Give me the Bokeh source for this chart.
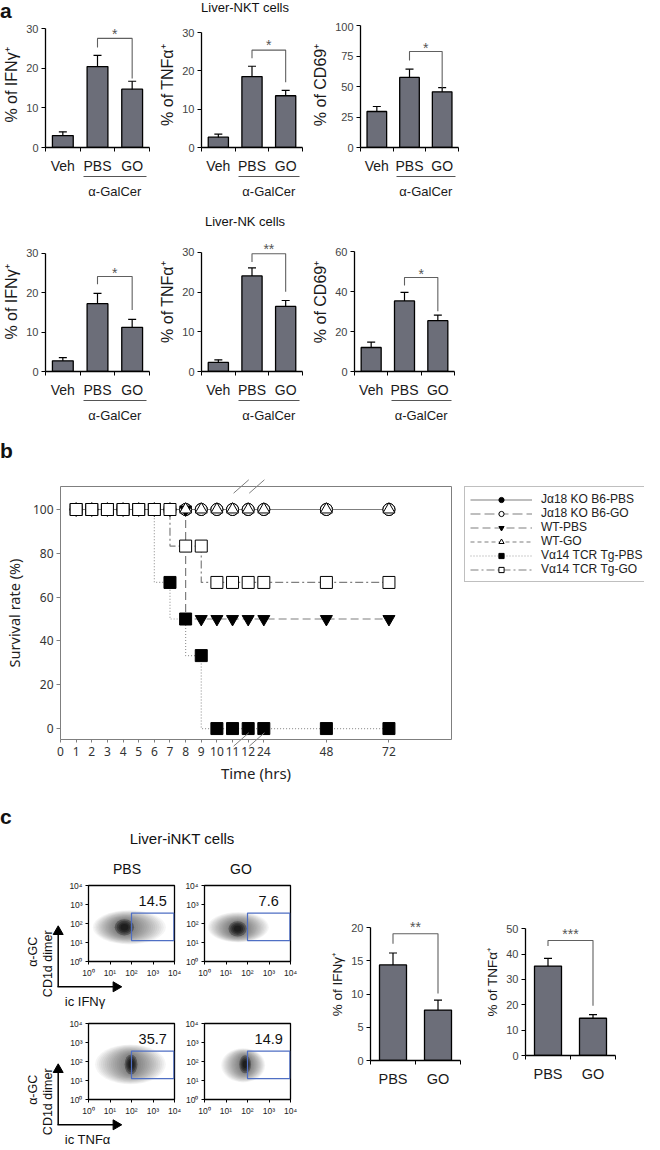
import math
from bokeh.plotting import figure
from bokeh.models import (ColumnDataSource, FixedTicker, LinearAxis, Whisker, TeeHead, Div, Spacer,
                          Legend, LegendItem, Range1d)
from bokeh.layouts import row, column
from bokeh.embed import file_html
from bokeh.resources import INLINE
from bokeh.core.properties import value

# ------------------------------------------------------------------ data
# panel a
groups_a = ["Veh", "PBS", "GO"]
nkt_ifng = [3.0, 20.4, 14.7]
nkt_ifng_err = [0.95, 2.8, 2.0]
nkt_tnfa = [2.7, 18.5, 13.5]
nkt_tnfa_err = [0.8, 2.7, 1.4]
nkt_cd69 = [29.5, 57.4, 45.6]
nkt_cd69_err = [4.1, 6.8, 3.5]
nk_ifng = [2.7, 17.2, 11.2]
nk_ifng_err = [0.8, 2.6, 2.0]
nk_tnfa = [2.3, 24.1, 16.4]
nk_tnfa_err = [0.65, 2.0, 1.5]
nk_cd69 = [12.0, 35.3, 25.4]
nk_cd69_err = [2.7, 4.3, 2.8]
# significance: [bracket level, PBS end, GO end, star level]
nkt_ifng_sig = [27.5, 25.2, 17.4, 29.4]
nkt_tnfa_sig = [25.4, 23.3, 17.0, 27.4]
nkt_cd69_sig = [78.7, 71.3, 48.9, 84.0]
nk_ifng_sig = [24.1, 22.1, 15.6, 25.7]
nk_tnfa_sig = [29.7, 27.6, 20.1, 31.7]
nk_cd69_sig = [47.0, 43.0, 30.1, 50.5]
stars_a = ["*", "*", "*", "*", "**", "*"]

# panel b
hours = [1, 2, 3, 4, 5, 6, 7, 8, 9, 10, 11, 12, 24, 48, 72]
tick_hours = [0, 1, 2, 3, 4, 5, 6, 7, 8, 9, 10, 11, 12, 24, 48, 72]
break_hours = [12, 24]
surv_b6_pbs = [100, 100, 100, 100, 100, 100, 100, 100, 100, 100, 100, 100, 100, 100, 100]
surv_b6_go = [100, 100, 100, 100, 100, 100, 100, 100, 100, 100, 100, 100, 100, 100, 100]
surv_wt_pbs = [100, 100, 100, 100, 100, 100, 100, 100, 50, 50, 50, 50, 50, 50, 50]
surv_wt_go = [100, 100, 100, 100, 100, 100, 100, 100, 100, 100, 100, 100, 100, 100, 100]
surv_va14_pbs = [100, 100, 100, 100, 100, 100, 66.7, 50, 33.3, 0, 0, 0, 0, 0, 0]
surv_va14_go = [100, 100, 100, 100, 100, 100, 100, 83.3, 83.3, 66.7, 66.7, 66.7, 66.7, 66.7, 66.7]
series_names = ["J\u03b118 KO B6-PBS", "J\u03b118 KO B6-GO", "WT-PBS", "WT-GO",
                "V\u03b114 TCR Tg-PBS", "V\u03b114 TCR Tg-GO"]

# panel c
groups_c = ["PBS", "GO"]
inkt_ifng = [14.4, 7.6]
inkt_ifng_err = [1.8, 1.5]
inkt_tnfa = [35.3, 14.7]
inkt_tnfa_err = [3.0, 1.4]
inkt_ifng_sig = [19.1, 17.6, 10.1, 20.6]
inkt_tnfa_sig = [45.4, 43.2, 19.6, 49.3]
# flow plots (log10 units): PBS-IFNg, GO-IFNg, PBS-TNFa, GO-TNFa
decades = [0, 1, 2, 3, 4]
decade_labels = ["10\u2070", "10\u00b9", "10\u00b2", "10\u00b3", "10\u2074"]
gate_pct = ["14.5", "7.6", "35.7", "14.9"]
gate_x = [2.0, 3.97]
gate_y = [1.1, 2.55]
cloud_cx = [1.67, 1.54, 1.98, 1.89]
cloud_cy = [1.80, 1.72, 1.85, 1.85]
core_w = [0.9, 0.85, 0.6, 0.55]
core_h = [0.85, 0.8, 1.05, 0.95]
halo_cx = [1.9, 1.57, 1.95, 1.8]
halo_cy = [1.8, 1.8, 1.85, 1.8]
halo_w = [3.4, 2.85, 3.3, 2.05]
halo_h = [1.8, 1.6, 2.1, 1.8]
key_y_labels = ["\u03b1-GC", "CD1d dimer"]
key_x_labels = ["ic IFN\u03b3", "ic TNF\u03b1"]

# ------------------------------------------------------------------ styles
SANS = "Liberation Sans"
NOTO = "Noto Sans"
BAR_FILL = "#6c6e79"
TXT = "#1a1a1a"
TICK_TXT = "#444444"


def bar_panel(cats, vals, errs, sig, stars, ylabel, yticks, yend, fw, fh, mbl, mbr, mbt, mbb,
              galcer, cat_size, tick_size, ylab_size):
    n = len(cats)
    xs = list(range(1, n + 1))
    src = ColumnDataSource(dict(x=xs, top=vals,
                                upper=[v + e for v, e in zip(vals, errs)],
                                lower=[v - e for v, e in zip(vals, errs)]))
    p = figure(frame_width=fw, frame_height=fh, x_range=Range1d(0.5, n + 0.5), y_range=Range1d(0, yend),
               min_border_left=mbl, min_border_right=mbr, min_border_top=mbt, min_border_bottom=mbb,
               output_backend="svg", toolbar_location=None)
    p.grid.visible = False
    p.outline_line_color = None
    p.vbar(x="x", top="top", width=0.6, source=src, fill_color=BAR_FILL, line_color="black", line_width=1.3)
    p.add_layout(Whisker(source=src, base="x", upper="upper", lower="lower", line_color="black", line_width=1.2,
                         upper_head=TeeHead(size=8, line_color="black", line_width=1.2),
                         lower_head=TeeHead(size=8, line_color="black", line_width=1.2)))
    a, b = xs[-2], xs[-1]
    p.line(x=[a, a, b, b], y=[sig[1], sig[0], sig[0], sig[2]], line_color="#606060", line_width=1.1)
    p.text(x=[(a + b) / 2], y=[sig[3]], text=[stars], text_align="center", text_baseline="middle",
           text_font=value(SANS), text_font_size="14px", text_color="#555555", y_offset=3)

    xa = p.xaxis[0]
    xa.ticker = FixedTicker(ticks=xs, minor_ticks=[i + 0.5 for i in range(n + 1)])
    xa.major_label_overrides = {x: c for x, c in zip(xs, cats)}
    xa.axis_line_color = "black"
    xa.axis_line_width = 1.3
    xa.major_tick_out = 0
    xa.major_tick_in = 0
    xa.minor_tick_out = 4
    xa.minor_tick_in = 0
    xa.minor_tick_line_color = "black"
    xa.major_label_standoff = 6
    xa.major_label_text_font = SANS
    xa.major_label_text_font_size = cat_size
    xa.major_label_text_color = TXT

    ya = p.yaxis[0]
    ya.ticker = FixedTicker(ticks=yticks)
    ya.bounds = (0, yticks[-1])
    ya.axis_line_color = "black"
    ya.axis_line_width = 1.3
    ya.major_tick_out = 4
    ya.major_tick_in = 0
    ya.major_tick_line_color = "black"
    ya.major_label_standoff = 3
    ya.major_label_text_font = SANS
    ya.major_label_text_font_size = tick_size
    ya.major_label_text_color = TICK_TXT
    ya.axis_label = ylabel
    ya.axis_label_text_font = SANS
    ya.axis_label_text_font_size = ylab_size
    ya.axis_label_text_font_style = "normal"
    ya.axis_label_text_color = TXT
    ya.axis_label_standoff = 3

    if galcer:
        mid = (a + b) / 2
        ax2 = LinearAxis(ticker=FixedTicker(ticks=[mid]), major_label_overrides={mid: "\u03b1-GalCer"},
                         bounds=(a - 0.4, b + 0.4))
        ax2.axis_line_color = "#555555"
        ax2.axis_line_width = 1
        ax2.major_tick_out = 0
        ax2.major_tick_in = 0
        ax2.minor_tick_line_color = None
        ax2.major_label_standoff = 7
        ax2.major_label_text_font = SANS
        ax2.major_label_text_font_size = "13px"
        ax2.major_label_text_color = TXT
        p.add_layout(ax2, "below")
    return p


def header(width, height, items):
    spans = []
    for txt, left, top, w, size, lh, weight, align in items:
        spans.append(
            f'<span style="position:absolute;left:{left}px;top:{top}px;width:{w}px;text-align:{align};'
            f"font-family:'Liberation Sans',Arial,sans-serif;font-size:{size}px;font-weight:{weight};"
            f'line-height:{lh}px;color:#111;white-space:nowrap;">{txt}</span>')
    html = (f'<div style="position:relative;width:{width}px;height:{height}px;">'
            + "".join(spans) + "</div>")
    return Div(text=html, width=width, height=height, margin=0)


def overlay(w, h, left, top):
    """Transparent figure laid over the previous block; its ranges are page pixels."""
    o = figure(frame_width=w, frame_height=h, x_range=Range1d(left, left + w), y_range=Range1d(top + h, top),
               min_border_left=0, min_border_right=0, min_border_top=0, min_border_bottom=0,
               x_axis_type=None, y_axis_type=None, output_backend="svg", toolbar_location=None,
               margin=(-h, 0, 0, 0))
    o.grid.visible = False
    o.outline_line_color = None
    o.background_fill_color = None
    o.border_fill_color = None
    return o


# ------------------------------------------------------------------ panel a
hdr_a1 = header(644, 22, [("a", 0, 0, 20, 21, 21, "bold", "left"),
                          ("Liver-NKT cells", 145, 1, 200, 13, 14, "normal", "center")])
ch1 = bar_panel(groups_a, nkt_ifng, nkt_ifng_err, nkt_ifng_sig, stars_a[0], "% of IFN\u03b3\u207a",
                [0, 10, 20, 30], 31.51, 104, 125, 41, 7, 0, 57, True, "14px", "11px", "16px")
ch2 = bar_panel(groups_a, nkt_tnfa, nkt_tnfa_err, nkt_tnfa_sig, stars_a[1], "% of TNF\u03b1\u207a",
                [0, 10, 20, 30], 32.61, 101, 125, 42, 7, 0, 57, True, "14px", "11px", "16px")
ch3 = bar_panel(groups_a, nkt_cd69, nkt_cd69_err, nkt_cd69_sig, stars_a[2], "% of CD69\u207a",
                [0, 25, 50, 75, 100], 102.46, 98, 125, 45, 17, 0, 57, True, "14px", "11px", "16px")
hdr_a2 = header(644, 28, [("Liver-NK cells", 145, 11, 200, 13, 14, "normal", "center")])
ch4 = bar_panel(groups_a, nk_ifng, nk_ifng_err, nk_ifng_sig, stars_a[3], "% of IFN\u03b3\u207a",
                [0, 10, 20, 30], 35.25, 104, 139, 41, 7, 0, 49, True, "14px", "11px", "16px")
ch5 = bar_panel(groups_a, nk_tnfa, nk_tnfa_err, nk_tnfa_sig, stars_a[4], "% of TNF\u03b1\u207a",
                [0, 10, 20, 30], 35.04, 101, 139, 42, 7, 0, 49, True, "14px", "11px", "16px")
ch6 = bar_panel(groups_a, nk_cd69, nk_cd69_err, nk_cd69_sig, stars_a[5], "% of CD69\u207a",
                [0, 20, 40, 60], 69.5, 100, 139, 43, 17, 0, 49, True, "14px", "11px", "16px")

# ------------------------------------------------------------------ panel b
def brk(h):
    return h if h <= 12 else 13 + (h - 24) / 6


tpos = [brk(h) for h in hours]
series_vals = [surv_b6_pbs, surv_b6_go, surv_wt_pbs, surv_wt_go, surv_va14_pbs, surv_va14_go]
series_marker = ["circle", "circle", "inverted_triangle", "triangle", "square", "square"]
series_fill = ["black", "white", "black", "white", "black", "white"]
series_size = [12, 12, 12, 12, 12, 12]
series_dash = ["solid", "10 4", "8 4", "4 3", "1 2", "8 3 2 3"]
series_lcol = ["#7f7f7f", "#7f7f7f", "#7f7f7f", "#7f7f7f", "#9a9a9a", "#7f7f7f"]
sources = [ColumnDataSource(dict(t=tpos, s=v)) for v in series_vals]

XB0, XB1 = 0, 25
YB0, YB1 = -5, 110.5
B_FW, B_FH, B_L, B_R, B_T, B_B = 391, 253, 53, 8, 19, 58
figB = figure(frame_width=B_FW, frame_height=B_FH, x_range=Range1d(XB0, XB1), y_range=Range1d(YB0, YB1),
              min_border_left=B_L, min_border_right=B_R, min_border_top=B_T, min_border_bottom=B_B,
              output_backend="svg", toolbar_location=None)
figB.grid.visible = False
figB.outline_line_color = "#7f7f7f"
figB.outline_line_width = 1
for i, src in enumerate(sources):
    figB.step(x="t", y="s", source=src, mode="before", line_color=series_lcol[i], line_dash=series_dash[i],
              line_width=1.2)
for i, src in enumerate(sources):
    figB.scatter(x="t", y="s", source=src, marker=series_marker[i], size=series_size[i],
                 fill_color=series_fill[i], line_color="black", line_width=1)
xb = figB.xaxis[0]
xb.ticker = FixedTicker(ticks=[brk(h) for h in tick_hours])
xb.major_label_overrides = {brk(h): str(h) for h in tick_hours}
xb.axis_line_color = None
xb.major_tick_out = 3
xb.major_tick_in = 0
xb.major_tick_line_color = "#7f7f7f"
xb.minor_tick_line_color = None
xb.major_label_standoff = 4
xb.major_label_text_font = NOTO
xb.major_label_text_font_size = "12px"
xb.major_label_text_color = "#333333"
xb.axis_label = "Time (hrs)"
xb.axis_label_text_font = NOTO
xb.axis_label_text_font_size = "15px"
xb.axis_label_text_font_style = "normal"
xb.axis_label_text_color = "#222222"
xb.axis_label_standoff = 4
yb = figB.yaxis[0]
yb.ticker = FixedTicker(ticks=[0, 20, 40, 60, 80, 100])
yb.axis_line_color = None
yb.major_tick_out = 4
yb.major_tick_in = 0
yb.major_tick_line_color = "#7f7f7f"
yb.minor_tick_line_color = None
yb.major_label_standoff = 3
yb.major_label_text_font = NOTO
yb.major_label_text_font_size = "12px"
yb.major_label_text_color = "#333333"
yb.axis_label = "Survival rate (%)"
yb.axis_label_text_font = NOTO
yb.axis_label_text_font_size = "14.5px"
yb.axis_label_text_font_style = "normal"
yb.axis_label_text_color = "#222222"
yb.axis_label_standoff = 6

# legend figure
figL = figure(frame_width=180, frame_height=B_FH, x_range=Range1d(-20, -19), y_range=Range1d(-20, -19),
              min_border_left=5, min_border_right=7, min_border_top=B_T, min_border_bottom=B_B,
              x_axis_type=None, y_axis_type=None, output_backend="svg", toolbar_location=None)
figL.grid.visible = False
figL.outline_line_color = None
items = []
for i, src in enumerate(sources):
    lr = figL.step(x="t", y="s", source=src, mode="before", line_color=series_lcol[i],
                   line_dash=series_dash[i], line_width=1.2)
    sr = figL.scatter(x="t", y="s", source=src, marker=series_marker[i], size=series_size[i],
                      fill_color=series_fill[i], line_color="black", line_width=1)
    items.append(LegendItem(label=series_names[i], renderers=[lr, sr]))
legend = Legend(items=items, location="top_left", margin=0, padding=5, spacing=0, glyph_width=62,
                glyph_height=13, label_height=13, label_standoff=9, label_text_font=SANS,
                label_text_font_size="12px", label_text_color="#222222", border_line_color="#7f7f7f",
                border_line_width=1)
figL.add_layout(legend)

# axis-break slashes on a transparent overlay whose ranges are the page pixels of the figB block
B_LEFT, B_TOP = 8, 470
B_W, B_H = B_L + B_FW + B_R + 192, B_T + B_FH + B_B
ovB = overlay(B_W, B_H, B_LEFT, B_TOP)
fx0 = B_LEFT + B_L
fy_top = B_TOP + B_T
fy_bot = fy_top + B_FH
bx0, by0, bx1, by1 = [], [], [], []
for bh in break_hours:
    cx = fx0 + (brk(bh) - XB0) / (XB1 - XB0) * B_FW
    for ey in (fy_top, fy_bot):
        bx0.append(cx - 7.6)
        by0.append(ey + 6.7)
        bx1.append(cx + 7.6)
        by1.append(ey - 6.7)
ovB.segment(x0=bx0, y0=by0, x1=bx1, y1=by1, line_color="#7f7f7f", line_width=1)

hdr_b = header(644, 42, [("b", 0, 15, 20, 21, 21, "bold", "left")])
sec_b = column(row(figB, figL, spacing=0), ovB, spacing=0)

# ------------------------------------------------------------------ panel c
FLOW_FW, FLOW_FH = 86, 76


def flow_panel(i, mbl, mbr, mbt, mbb):
    p = figure(frame_width=FLOW_FW, frame_height=FLOW_FH, x_range=Range1d(0, 4), y_range=Range1d(0, 4),
               min_border_left=mbl, min_border_right=mbr, min_border_top=mbt, min_border_bottom=mbb,
               output_backend="svg", toolbar_location=None)
    p.grid.visible = False
    p.outline_line_color = "black"
    p.outline_line_width = 1.3
    for ax in (p.xaxis[0], p.yaxis[0]):
        ax.ticker = FixedTicker(ticks=decades)
        ax.major_label_overrides = {d: lab for d, lab in zip(decades, decade_labels)}
        ax.axis_line_color = None
        ax.major_tick_out = 3
        ax.major_tick_in = 0
        ax.major_tick_line_color = "black"
        ax.minor_tick_line_color = None
        ax.major_label_standoff = 3
        ax.major_label_text_font = SANS
        ax.major_label_text_font_size = "8.5px"
        ax.major_label_text_color = "#222222"
    nl = 16
    ex, ey, ew, eh = [], [], [], []
    for k in range(nl):
        t = k / (nl - 1)
        ex.append(halo_cx[i] + (cloud_cx[i] - halo_cx[i]) * t)
        ey.append(halo_cy[i] + (cloud_cy[i] - halo_cy[i]) * t)
        ew.append(halo_w[i] + (core_w[i] - halo_w[i]) * t)
        eh.append(halo_h[i] + (core_h[i] - halo_h[i]) * t)
    p.ellipse(x=ex, y=ey, width=ew, height=eh, fill_color="black", fill_alpha=0.04, line_color=None)
    fr = [1.0, 0.8, 0.6, 0.4]
    p.ellipse(x=[cloud_cx[i]] * len(fr), y=[cloud_cy[i]] * len(fr),
              width=[core_w[i] * f for f in fr], height=[core_h[i] * f for f in fr],
              fill_color="black", fill_alpha=0.3, line_color=None)
    p.quad(left=[gate_x[0]], right=[gate_x[1]], bottom=[gate_y[0]], top=[gate_y[1]], fill_color=None,
           line_color="#4f6fc4", line_width=1.2)
    p.text(x=[(gate_x[0] + gate_x[1]) / 2], y=[gate_y[1] + 0.65], text=[gate_pct[i]], text_align="center",
           text_baseline="middle", text_font=value(SANS), text_font_size="14.5px", text_color="#111111")
    return p


def key_panel(w, h, left, top, hy, xlab):
    """Axis key (arrows + labels) on a transparent overlay in page pixels."""
    o = overlay(w, h, left, top)
    vx = 65.7
    o.segment(x0=[vx, vx - 0.75], y0=[hy, hy], x1=[vx, 121.0], y1=[hy - 53.0, hy],
              line_color="black", line_width=1.5)
    o.scatter(x=[vx], y=[hy - 55.2], marker="triangle", size=10, fill_color="black", line_color="black")
    o.scatter(x=[123.5], y=[hy], marker="triangle", angle=-math.pi / 2, size=10, fill_color="black",
              line_color="black")
    o.text(x=[40.7, 55.0], y=[hy - 35.0, hy - 23.0], text=key_y_labels, angle=math.pi / 2,
           text_align="center", text_baseline="middle", text_font=value(SANS), text_font_size="12.5px",
           text_color="#111111")
    o.text(x=[72.3], y=[hy + 14.7], text=[xlab], text_align="left", text_baseline="middle",
           text_font=value(SANS), text_font_size="13px", text_color="#111111")
    return o


hdr_c = header(302, 78, [("c", 0, 9, 20, 21, 21, "bold", "left"),
                         ("Liver-iNKT cells", 82, 34, 200, 15, 15, "normal", "center"),
                         ("PBS", 97, 65, 60, 14, 14, "normal", "center"),
                         ("GO", 211, 65, 60, 14, 14, "normal", "center")])
f_tl = flow_panel(0, 88, 8, 10, 52)
f_tr = flow_panel(1, 22, 12, 10, 52)
f_bl = flow_panel(2, 88, 8, 10, 48)
f_br = flow_panel(3, 22, 12, 10, 48)
k_t = key_panel(182, 138, 8, 878, 989.3, key_x_labels[0])
k_b = key_panel(182, 134, 8, 1016, 1127.3, key_x_labels[1])

bc1 = bar_panel(groups_c, inkt_ifng, inkt_ifng_err, inkt_ifng_sig, "**", "% of IFN\u03b3\u207a",
                [0, 5, 10, 15, 20], 23.06, 90, 153, 68, 22, 10, 37, False, "14.5px", "11px", "13.5px")
bc2 = bar_panel(groups_c, inkt_tnfa, inkt_tnfa_err, inkt_tnfa_sig, "***", "% of TNF\u03b1\u207a",
                [0, 10, 20, 30, 40, 50], 58.4, 90, 148, 43, 29, 10, 42, False, "14.5px", "11px", "13.5px")

left_c = column(hdr_c, row(f_tl, f_tr, spacing=0), k_t, row(f_bl, f_br, spacing=0), k_b, spacing=0)
right_c = column(Spacer(width=342, height=100, margin=0), row(bc1, bc2, spacing=0), spacing=0)

root = column(hdr_a1, row(ch1, ch2, ch3, spacing=0), hdr_a2, row(ch4, ch5, ch6, spacing=0),
              hdr_b, sec_b, row(left_c, right_c, spacing=0), spacing=0)

open("out.html", "w").write(file_html(root, INLINE, title="Figure"))
